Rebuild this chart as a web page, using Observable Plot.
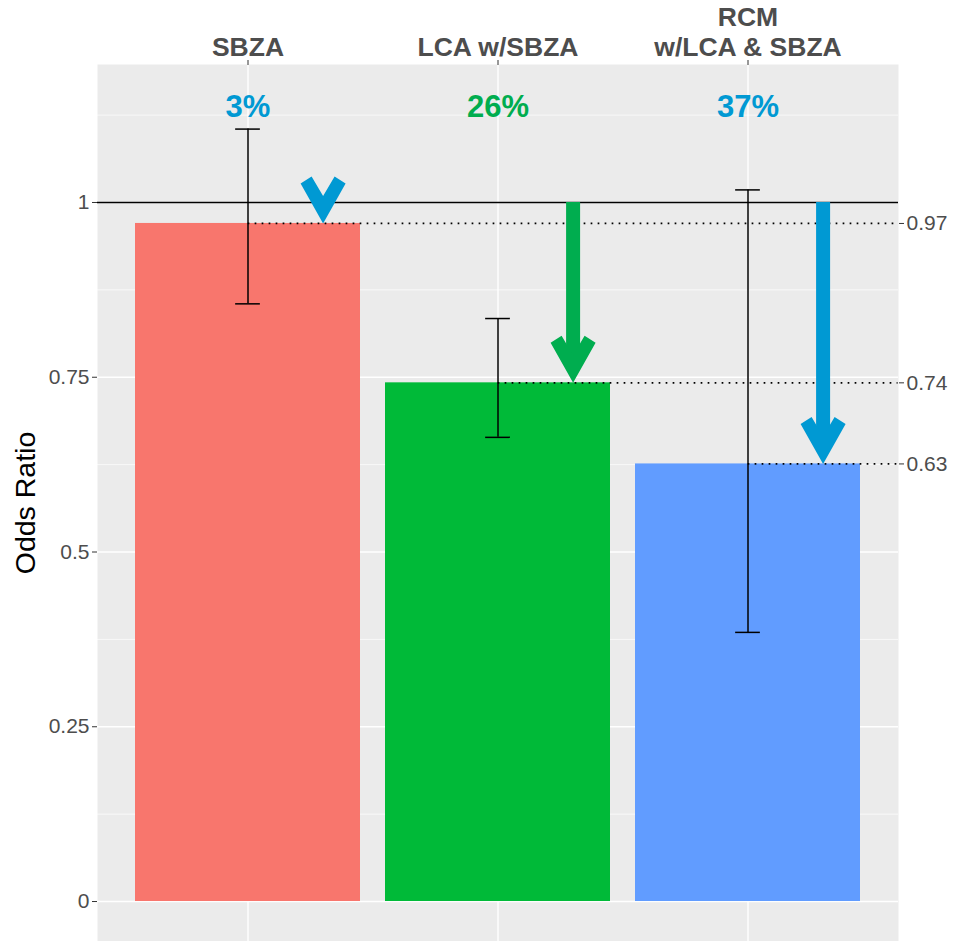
<!DOCTYPE html>
<html><head><meta charset="utf-8">
<script src="https://cdn.jsdelivr.net/npm/d3@7"></script>
<script src="https://cdn.jsdelivr.net/npm/@observablehq/plot@0.6"></script>
<style>body{margin:0;background:#fff;}</style>
</head><body><div id="chart"></div>
<script>
// ---- data ----
const categories = ["SBZA", "LCA w/SBZA", "RCM\nw/LCA & SBZA"];
const oddsRatio = [0.97, 0.742, 0.626];
const ciLow = [0.855, 0.664, 0.385];
const ciHigh = [1.105, 0.834, 1.018];
const yTicks = [0, 0.25, 0.5, 0.75, 1];
const yMinorTicks = [0.125, 0.375, 0.625, 0.875, 1.125];
const rightTicks = [0.97, 0.742, 0.626];
const referenceOR = [1];
const yTitle = "Odds Ratio";

// ---- styles ----
const barColors = ["#F8766D", "#00BA38", "#619CFF"];
const arrowColors = ["#0099D3", "#00AD4F", "#0099D3"];
const font = "'Liberation Sans', Arial, Helvetica, sans-serif";

const lastCat = categories[categories.length - 1];
const rows = categories.map((c, i) => ({
  cat: c, or: oddsRatio[i], lo: ciLow[i], hi: ciHigh[i],
  pct: Math.round((1 - oddsRatio[i]) * 100) + "%",
  ref: referenceOR[0], last: lastCat
}));
const barFill = (d) => barColors[categories.indexOf(d.cat)];
const arrowFill = (d) => arrowColors[categories.indexOf(d.cat)];

const W = 956, H = 941, mL = 97, mR = 58, mT = 64, mB = 0;
const step = (W - mL - mR) / 3.2;
const bw = step * 0.9;

const chevron = {
  draw(ctx) {
    ctx.moveTo(0, 0);
    ctx.lineTo(-22.5, -40);
    ctx.lineTo(-11.5, -47);
    ctx.lineTo(0, -27.5);
    ctx.lineTo(11.5, -47);
    ctx.lineTo(22.5, -40);
    ctx.closePath();
  }
};

const chart = Plot.plot({
  width: W, height: H, marginLeft: mL, marginRight: mR, marginTop: mT, marginBottom: mB,
  style: {fontFamily: font, background: "#fff", overflow: "visible"},
  x: {type: "band", domain: categories, paddingInner: 0.1, paddingOuter: 0.15, axis: null},
  y: {domain: [-0.0572, 1.1974], axis: null},
  color: {type: "identity"},
  marks: [
    Plot.frame({fill: "#EBEBEB", stroke: null}),
    Plot.ruleY(yMinorTicks, {stroke: "#fff", strokeWidth: 0.7}),
    Plot.ruleY(yTicks, {stroke: "#fff", strokeWidth: 1.4}),
    Plot.ruleX(categories, {x: d => d, stroke: "#fff", strokeWidth: 1.4}),
    Plot.barY(rows, {x: "cat", y: "or", fill: barFill}),
    Plot.ruleY(referenceOR, {stroke: "#000", strokeWidth: 1.4}),
    Plot.ruleY(rows, {y: "or", x1: "cat", x2: "last", insetLeft: bw / 2, insetRight: -step * 0.15, stroke: "#000", strokeWidth: 1.7, strokeDasharray: "1.7,5.3"}),
    Plot.ruleX(rows, {x: "cat", y1: "lo", y2: "hi", stroke: "#000", strokeWidth: 1.5}),
    Plot.tickY(rows, {x: "cat", y: "lo", insetLeft: (bw - 25) / 2, insetRight: (bw - 25) / 2, stroke: "#000", strokeWidth: 1.5}),
    Plot.tickY(rows, {x: "cat", y: "hi", insetLeft: (bw - 25) / 2, insetRight: (bw - 25) / 2, stroke: "#000", strokeWidth: 1.5}),
    Plot.ruleX(rows, {filter: d => d.ref - d.or > 0.06, x: "cat", y1: "ref", y2: "or", insetBottom: 20, dx: step * 0.3, stroke: arrowFill, strokeWidth: 14, strokeLinecap: "butt"}),
    Plot.dot(rows, {x: "cat", y: "or", dx: step * 0.3, symbol: chevron, r: 10, fill: arrowFill, stroke: null}),
    Plot.text(rows, {x: "cat", text: "pct", frameAnchor: "top", lineAnchor: "middle", dy: 43, fill: arrowFill, fontSize: 31, fontWeight: "bold"}),
    Plot.axisY(yTicks, {anchor: "left", tickSize: 5, tickPadding: 3, fontSize: 21, fill: "#4D4D4D", stroke: "#333", label: null, tickFormat: d => `${d}`}),
    Plot.axisY(rightTicks, {anchor: "right", tickSize: 5, tickPadding: 3, fontSize: 21, fill: "#4D4D4D", stroke: "#333", label: null, tickFormat: d3.format(".2f")}),
    Plot.axisX({anchor: "top", tickSize: 5, tickPadding: 4, fontSize: 26.5, fontWeight: "bold", fill: "#4D4D4D", stroke: "#333", lineHeight: 1.13, label: null}),
    Plot.text([yTitle], {text: d => d, frameAnchor: "left", textAnchor: "middle", lineAnchor: "middle", dx: -72, rotate: -90, fontSize: 28.5, fill: "#000"})
  ]
});
document.getElementById("chart").appendChild(chart);
</script>
</body></html>
